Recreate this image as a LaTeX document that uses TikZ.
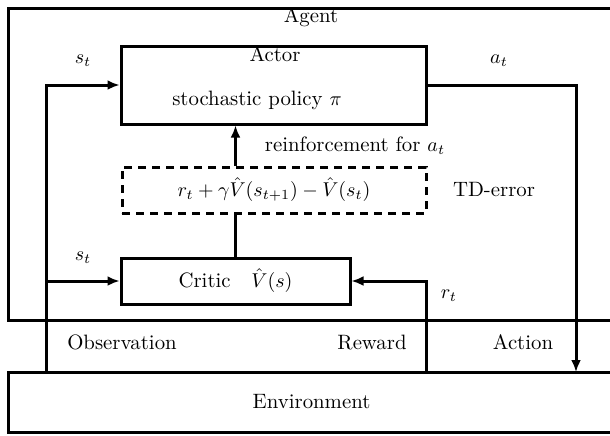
\documentclass[tikz,border=0pt]{standalone}
\usepackage{amsmath, amssymb}
\usepackage{tikz}
\usetikzlibrary{arrows.meta, positioning}

\tikzset{
    blok/.style={draw, rectangle, line width=1.5pt, inner sep=0pt},
    lien/.style={line width=1.5pt},
}

\begin{document}
\begin{tikzpicture}[>={Latex[length=6pt, width=5pt]}, x=0.5pt, y=-0.5pt,
    every node/.append style={font=\fontsize{10.4}{12.5}\selectfont}]

    \useasboundingbox (0,0) rectangle (610,435);
    \clip (0,0) rectangle (610,435);

    % =================================================================
    % 1. CAC KHOI
    % =================================================================
    \node[blok, minimum width=303.5pt, minimum height=156pt] (agent) at (311.5,164) {};
    \node[blok, minimum width=303.5pt, minimum height=30pt] (env) at (311.5,402) {Environment};

    \node[blok, minimum width=152.5pt, minimum height=39pt] (actor) at (273.5,85) {};
    \node[blok, dash pattern=on 4pt off 3pt, minimum width=152pt, minimum height=23pt] (td)
        at (274,190) {$r_t + \gamma\hat{V}(s_{t+1}) - \hat{V}(s_t)$};
    \node[blok, minimum width=114.5pt, minimum height=23pt] (critic) at (235.5,281)
        {Critic\quad $\hat{V}(s)$};

    % =================================================================
    % 2. NHAN
    % =================================================================
    \node (agentlbl) at (311,17) {Agent};
    \node (actorlbl) at (275,54) {Actor};
    \node (policy) at (257,100) {stochastic policy $\pi$};
    \node (reinf) at (355,146) {reinforcement for $a_t$};
    \node (tdlbl) at (494,190) {TD-error};

    \node (st1) at (83,61) {$s_t$};
    \node (at) at (499,61) {$a_t$};
    \node (st2) at (83,258) {$s_t$};
    \node (rt) at (449,296) {$r_t$};

    \node (obslbl) at (122,342) {Observation};
    \node (rewlbl) at (372,342) {Reward};
    \node (actlbl) at (523,342) {Action};

    % =================================================================
    % 3. DUONG NOI
    % =================================================================
    \coordinate (obs) at (46,372);
    \coordinate (act) at (576,372);
    \coordinate (rew) at (426,372);

    \draw[lien, ->] (obs) |- (actor.west);
    \draw[lien, ->] (obs |- critic.west) -- (critic.west);
    \draw[lien, ->] (actor.east) -| (act);
    \draw[lien, ->] (rew) |- (critic.east);

    \draw[lien, ->] (td.north -| critic.north) -- (actor.south -| critic.north);
    \draw[lien] (td.south -| critic.north) -- (critic.north);

\end{tikzpicture}
\end{document}
